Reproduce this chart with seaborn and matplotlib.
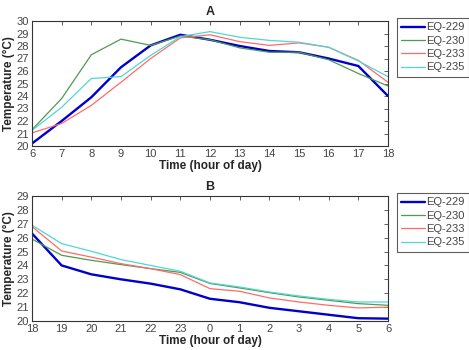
import numpy as np
import pandas as pd
import matplotlib
matplotlib.use("Agg")
import matplotlib.pyplot as plt
import seaborn as sns

sensors = ["EQ-229", "EQ-230", "EQ-233", "EQ-235"]
colors = ["#0000cc", "#4f9a4f", "#ff6b6b", "#4fd6d6"]
widths = [1.7, 0.9, 0.9, 0.9]

hours_a = [6, 7, 8, 9, 10, 11, 12, 13, 14, 15, 16, 17, 18]
a_229 = [20.2, 22.0, 23.9, 26.3, 28.05, 28.9, 28.5, 28.0, 27.6, 27.5, 27.0, 26.4, 24.0]
a_230 = [21.3, 23.8, 27.3, 28.55, 28.05, 28.8, 28.5, 27.85, 27.5, 27.5, 26.9, 25.8, 24.8]
a_233 = [21.05, 21.8, 23.25, 25.1, 27.0, 28.65, 28.9, 28.35, 28.05, 28.25, 27.9, 26.85, 25.1]
a_235 = [21.25, 23.1, 25.4, 25.55, 27.25, 28.75, 29.15, 28.7, 28.45, 28.3, 27.9, 26.8, 25.55]

hours_b = ["18", "19", "20", "21", "22", "23", "0", "1", "2", "3", "4", "5", "6"]
b_229 = [26.3, 24.0, 23.36, 23.0, 22.69, 22.28, 21.6, 21.35, 20.95, 20.7, 20.45, 20.2, 20.17]
b_230 = [25.9, 24.73, 24.37, 24.06, 23.77, 23.5, 22.7, 22.38, 22.04, 21.73, 21.49, 21.25, 21.13]
b_233 = [26.8, 25.04, 24.6, 24.13, 23.77, 23.34, 22.33, 22.14, 21.66, 21.37, 21.13, 20.94, 21.0]
b_235 = [26.9, 25.57, 25.02, 24.42, 24.0, 23.58, 22.74, 22.45, 22.09, 21.8, 21.56, 21.37, 21.37]

sns.set_theme(style="white")
plt.rcParams["font.family"] = ["Liberation Sans", "DejaVu Sans"]

fig = plt.figure(figsize=(4.69, 3.5), dpi=100)
axA = fig.add_axes([32/469, 1-146/350, 356/469, 125/350])
axB = fig.add_axes([32/469, 1-321/350, 356/469, 125/350])

def build(xs, series):
    rows = []
    for name, vals in zip(sensors, series):
        for x, v in zip(xs, vals):
            rows.append({"x": x, "temp": v, "sensor": name})
    return pd.DataFrame(rows)

dfA = build(hours_a, [a_229, a_230, a_233, a_235])
pos_b = list(range(len(hours_b)))
dfB = build(pos_b, [b_229, b_230, b_233, b_235])

for ax, df, legy in [(axA, dfA, 18), (axB, dfB, 193)]:
    for name, c, w in zip(sensors, colors, widths):
        sub = df[df.sensor == name]
        sns.lineplot(data=sub, x="x", y="temp", ax=ax, color=c, linewidth=w, label=name)
    leg = ax.legend(loc="upper left", bbox_to_anchor=(397/469, 1-legy/350),
                    bbox_transform=fig.transFigure, borderaxespad=0, frameon=True,
                    fancybox=False, edgecolor="#333333", fontsize=8, handlelength=2.1,
                    handletextpad=0.15, labelspacing=0.3, borderpad=0.4)
    leg.get_frame().set_linewidth(0.8)
    for t in leg.get_texts():
        t.set_color("#444444")
    ax.set_ylabel("Temperature (°C)", fontsize=8.5, fontweight="bold", labelpad=1)
    ax.set_xlabel("Time (hour of day)", fontsize=8.5, fontweight="bold", labelpad=1)
    ax.tick_params(direction="in", top=True, right=True, length=3, width=0.6,
                   labelsize=8, labelcolor="#444444", color="#444444", pad=2)
    for s in ax.spines.values():
        s.set_linewidth(0.8)
        s.set_color("#333333")
    ax.grid(False)

axA.set_xlim(6, 18)
axA.set_xticks(hours_a)
axA.set_ylim(20, 30)
axA.set_yticks(range(20, 31))
axA.set_title("A", fontsize=9, fontweight="bold", pad=4)

axB.set_xlim(0, 12)
axB.set_xticks(pos_b)
axB.set_xticklabels(hours_b)
axB.set_ylim(20, 29)
axB.set_yticks(range(20, 30))
axB.set_title("B", fontsize=9, fontweight="bold", pad=4)

fig.savefig("out.png", dpi=100)
